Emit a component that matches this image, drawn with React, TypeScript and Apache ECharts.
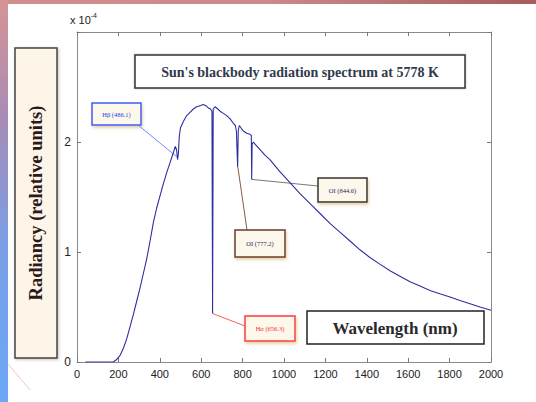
import React, { useEffect, useRef } from "react";
import * as echarts from "echarts";

// Sun's blackbody spectrum, radiancy in units of 1e-4
const wavelengthNm = [40, 100, 150, 175, 190, 208, 225, 240, 256, 272, 288, 304, 320, 337, 353, 369, 385, 401, 417, 433, 449, 465, 475, 481, 486, 490, 494, 500, 515, 530, 546, 562, 578, 594, 610, 623, 634, 645, 652, 655, 658, 667, 680, 691, 707, 723, 740, 755, 765, 770, 776, 779, 784, 795, 804, 820, 836, 842, 844, 846, 852, 860, 884, 908, 932, 980, 1029, 1077, 1126, 1174, 1222, 1270, 1319, 1367, 1415, 1463, 1512, 1560, 1609, 1657, 1705, 1753, 1802, 1850, 1899, 1947, 2000];
const radiancy = [0, 0, 0, 0, 0.02, 0.06, 0.13, 0.21, 0.32, 0.43, 0.55, 0.67, 0.8, 0.94, 1.1, 1.27, 1.4, 1.51, 1.62, 1.72, 1.81, 1.9, 1.96, 1.93, 1.84, 1.9, 2.05, 2.13, 2.19, 2.24, 2.27, 2.3, 2.32, 2.33, 2.34, 2.33, 2.31, 2.3, 2.28, 0.44, 2.3, 2.32, 2.3, 2.28, 2.26, 2.24, 2.21, 2.17, 2.15, 2.1, 1.77, 2.1, 2.15, 2.12, 2.1, 2.08, 2.07, 2.06, 1.66, 1.98, 2.0, 1.98, 1.93, 1.88, 1.84, 1.73, 1.63, 1.53, 1.44, 1.35, 1.26, 1.18, 1.1, 1.02, 0.95, 0.89, 0.83, 0.78, 0.73, 0.69, 0.65, 0.62, 0.59, 0.56, 0.53, 0.5, 0.47];

// spectral line annotations
const lineLabels = ["Hβ (486.1)", "Hα (656.3)", "OI (777.2)", "OI (844.6)"];
const lineWavelengths = [486.1, 656.3, 777.2, 844.6];
const lineValues = [1.86, 0.44, 1.77, 1.66];

const titleText = "Sun's blackbody radiation spectrum at 5778 K";
const xAxisName = "Wavelength (nm)";
const yAxisName = "Radiancy (relative units)";

// annotation box layout (pixels)
const boxes = [
  { x: 92, y: 103, w: 49, h: 22, border: "#3b5cff", text: "#2a3fe0", ax: 138, ay: 125 },
  { x: 245, y: 316, w: 50, h: 25, border: "#ff3a3a", text: "#ff2a2a", ax: 245, ay: 326 },
  { x: 235, y: 230, w: 50, h: 27, border: "#6a3a2c", text: "#2a2a55", ax: 247, ay: 230 },
  { x: 318, y: 178, w: 49, h: 24, border: "#333333", text: "#2a2a55", ax: 318, ay: 186 },
];
const lineColors = ["#6f8cff", "#ff5a5a", "#8a5a4a", "#777777"];

export default function App() {
  const ref = useRef<HTMLDivElement>(null);
  useEffect(() => {
    if (!ref.current) return;
    const chart = echarts.init(ref.current, null, { renderer: "svg" });
    const data = wavelengthNm.map((w, i) => [w, radiancy[i]]);
    const axisLine = { show: true, onZero: false, lineStyle: { color: "#8a8a8a", width: 1 } };
    const tick = { show: true, inside: true, length: 4, lineStyle: { color: "#777" } };
    chart.setOption({
      animation: false,
      backgroundColor: "#ffffff",
      grid: { left: 77, top: 32, width: 414, height: 330, show: false },
      xAxis: [
        {
          type: "value", min: 0, max: 2000, interval: 200,
          axisLine, axisTick: tick, splitLine: { show: false },
          axisLabel: {
            color: "#222", fontFamily: "Liberation Sans", fontSize: 11, margin: 6,
            formatter: (v: number) => String(v),
          },
        },
        {
          type: "value", position: "top", min: 0, max: 2000, interval: 200,
          axisLine, axisTick: tick, splitLine: { show: false }, axisLabel: { show: false },
        },
      ],
      yAxis: [
        {
          type: "value", min: 0, max: 3, interval: 1,
          axisLine, axisTick: tick, splitLine: { show: false },
          axisLabel: {
            color: "#222", fontFamily: "Liberation Sans", fontSize: 12, margin: 6,
            formatter: (v: number) => (v >= 3 ? "" : String(v)),
          },
        },
        {
          type: "value", position: "right", min: 0, max: 3, interval: 1,
          axisLine, axisTick: tick, splitLine: { show: false }, axisLabel: { show: false },
        },
      ],
      series: [
        {
          type: "line", data, symbol: "none", xAxisIndex: 0, yAxisIndex: 0,
          lineStyle: { color: "#2e2ea0", width: 1.1 },
        },
      ],
    });

    const g: any[] = [];
    // frame decorations
    g.push({
      type: "rect", shape: { x: 0, y: 0, width: 536, height: 4 }, silent: true,
      style: { fill: new echarts.graphic.LinearGradient(0, 0, 1, 0, [
        { offset: 0, color: "#cf8f8f" }, { offset: 0.5, color: "#c98a8a" }, { offset: 1, color: "#a85c5c" },
      ]) },
    });
    g.push({
      type: "rect", shape: { x: 0, y: 0, width: 8, height: 402 }, silent: true,
      style: { fill: new echarts.graphic.LinearGradient(0, 0, 0, 1, [
        { offset: 0, color: "#d69494" }, { offset: 0.3, color: "#a68cb8" },
        { offset: 0.6, color: "#7b9ee6" }, { offset: 1, color: "#6aa8f6" },
      ]) },
    });
    g.push({
      type: "line", shape: { x1: 8, y1: 364, x2: 30, y2: 390 }, silent: true,
      style: { stroke: "#f4a8a8", lineWidth: 1, opacity: 0.7 },
    });
    // x 10^-4
    g.push({
      type: "text", x: 70, y: 12,
      style: {
        text: "{a|x 10}{b|-4}", rich: {
          a: { fontFamily: "Liberation Sans", fontSize: 11, fill: "#222" },
          b: { fontFamily: "Liberation Sans", fontSize: 7, fill: "#222", verticalAlign: "top", padding: [0, 0, 8, 0] },
        },
      },
    });
    // y-axis title box
    g.push({
      type: "rect", shape: { x: 15, y: 48, width: 42, height: 310 },
      style: { fill: "#fdf6e8", stroke: "#444", lineWidth: 1.5, shadowBlur: 3, shadowColor: "rgba(120,100,60,0.4)", shadowOffsetX: 1, shadowOffsetY: 1 },
    });
    g.push({
      type: "text", x: 36, y: 203, rotation: Math.PI / 2,
      style: {
        text: yAxisName, fontFamily: "Liberation Serif", fontWeight: "bold", fontSize: 18.5,
        fill: "#2b1a1c", align: "center", verticalAlign: "middle",
      },
    });
    // title box
    g.push({
      type: "rect", shape: { x: 135, y: 55, width: 330, height: 33 },
      style: { fill: "#ffffff", stroke: "#333", lineWidth: 1.5, shadowBlur: 2, shadowColor: "rgba(0,0,0,0.25)" },
    });
    g.push({
      type: "text", x: 300, y: 72,
      style: {
        text: titleText, fontFamily: "Liberation Serif", fontWeight: "bold", fontSize: 14,
        fill: "#2f3a4c", align: "center", verticalAlign: "middle",
      },
    });
    // x-axis title box
    g.push({
      type: "rect", shape: { x: 307, y: 311, width: 177, height: 33 },
      style: { fill: "#ffffff", stroke: "#222", lineWidth: 1.5 },
    });
    g.push({
      type: "text", x: 395, y: 328,
      style: {
        text: xAxisName, fontFamily: "Liberation Serif", fontWeight: "bold", fontSize: 17,
        fill: "#2a2a2a", align: "center", verticalAlign: "middle",
      },
    });
    // spectral line annotations
    lineLabels.forEach((label, i) => {
      const p = chart.convertToPixel({ gridIndex: 0 }, [lineWavelengths[i], lineValues[i]]) as number[];
      const b = boxes[i];
      g.push({
        type: "line", shape: { x1: p[0], y1: p[1], x2: b.ax, y2: b.ay }, silent: true,
        style: { stroke: lineColors[i], lineWidth: 1 },
      });
      g.push({
        type: "rect", shape: { x: b.x, y: b.y, width: b.w, height: b.h },
        style: { fill: "#fdf8ec", stroke: b.border, lineWidth: 1.5, shadowBlur: 3, shadowColor: "rgba(200,160,80,0.5)", shadowOffsetX: 1, shadowOffsetY: 2 },
      });
      g.push({
        type: "text", x: b.x + b.w / 2, y: b.y + b.h / 2,
        style: {
          text: label, fontFamily: "Liberation Serif", fontSize: 6.5,
          fill: b.text, align: "center", verticalAlign: "middle",
        },
      });
    });
    chart.setOption({ graphic: g });
    return () => chart.dispose();
  }, []);
  return (
    <div
      ref={ref}
      style={{ position: "fixed", left: 0, top: 0, width: 536, height: 402 }}
    />
  );
}
